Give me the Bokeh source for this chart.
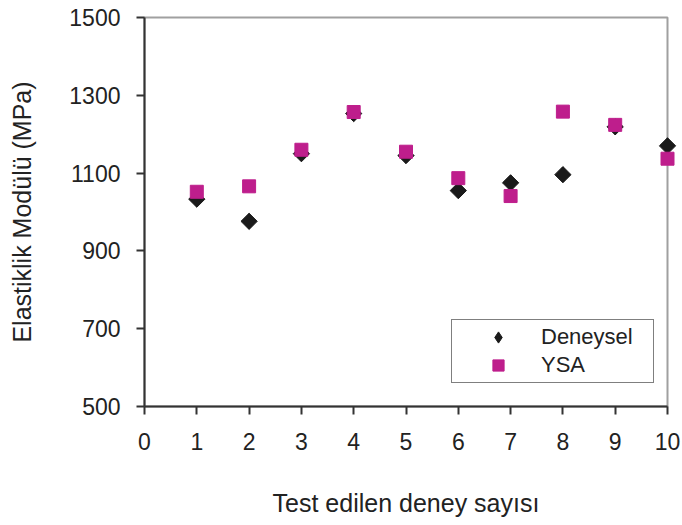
import math
from bokeh.plotting import figure
from bokeh.models import ColumnDataSource, Legend, LegendItem, FixedTicker, Range1d
from bokeh.embed import file_html
from bokeh.resources import INLINE

# Data
test_no = [1, 2, 3, 4, 5, 6, 7, 8, 9, 10]
deneysel = [1033, 976, 1150, 1253, 1145, 1055, 1075, 1096, 1219, 1170]
ysa = [1052, 1066, 1160, 1257, 1155, 1087, 1041, 1258, 1224, 1137]
x_ticks = [0, 1, 2, 3, 4, 5, 6, 7, 8, 9, 10]
y_ticks = [500, 700, 900, 1100, 1300, 1500]

FONT = "Liberation Sans"
TEXT = "#222222"

p = figure(
    frame_width=523, frame_height=389,
    min_border_left=144, min_border_right=15, min_border_top=17, min_border_bottom=119,
    x_range=Range1d(0, 10), y_range=Range1d(500, 1500),
    output_backend="svg", toolbar_location=None,
    background_fill_color="white", border_fill_color="white",
)
p.outline_line_color = "#a0a0a0"
p.outline_line_width = 2
p.xgrid.visible = False
p.ygrid.visible = False

for ax in (p.xaxis[0], p.yaxis[0]):
    ax.axis_line_color = "#333333"
    ax.axis_line_width = 2
    ax.major_tick_line_color = "#333333"
    ax.major_tick_line_width = 2
    ax.major_tick_out = 8
    ax.major_tick_in = 0
    ax.minor_tick_out = 0
    ax.minor_tick_in = 0
    ax.major_label_text_font = FONT
    ax.major_label_text_font_size = "23px"
    ax.major_label_text_color = TEXT
    ax.axis_label_text_font = FONT
    ax.axis_label_text_font_size = "25px"
    ax.axis_label_text_font_style = "normal"
    ax.axis_label_text_color = TEXT

p.xaxis.ticker = FixedTicker(ticks=x_ticks)
p.yaxis.ticker = FixedTicker(ticks=y_ticks)
p.xaxis.major_label_standoff = 18
p.yaxis.major_label_standoff = 16
p.xaxis.axis_label = "Test edilen deney sayısı"
p.yaxis.axis_label = "Elastiklik Modülü (MPa)"
p.xaxis.axis_label_standoff = 36
p.yaxis.axis_label_standoff = 30

src = ColumnDataSource(dict(x=test_no, d=deneysel, y=ysa))
# diamond key used by the legend (hidden under the rotated-square markers in the plot)
r1_key = p.scatter("x", "d", source=src, marker="diamond", size=15,
                   fill_color="#1a1a1a", line_color="#1a1a1a", level="overlay")
r1 = p.scatter("x", "d", source=src, marker="square", size=11.5, angle=math.pi / 4,
               fill_color="#1a1a1a", line_color="#1a1a1a", level="overlay")
r2 = p.scatter("x", "y", source=src, marker="square", size=13,
               fill_color="#BE1E8C", line_color="#BE1E8C", level="overlay")

legend = Legend(
    items=[LegendItem(label="Deneysel", renderers=[r1_key]), LegendItem(label="YSA", renderers=[r2])],
    location=(307, 23),
    border_line_color="black", border_line_width=1.5,
    background_fill_color="white", background_fill_alpha=1,
    label_text_font=FONT, label_text_font_size="22px", label_text_color=TEXT,
    glyph_width=86, glyph_height=28, label_standoff=0, label_width=109,
    padding=3, spacing=0, margin=0,
)
p.add_layout(legend, "center")

open("out.html", "w").write(file_html(p, INLINE))
